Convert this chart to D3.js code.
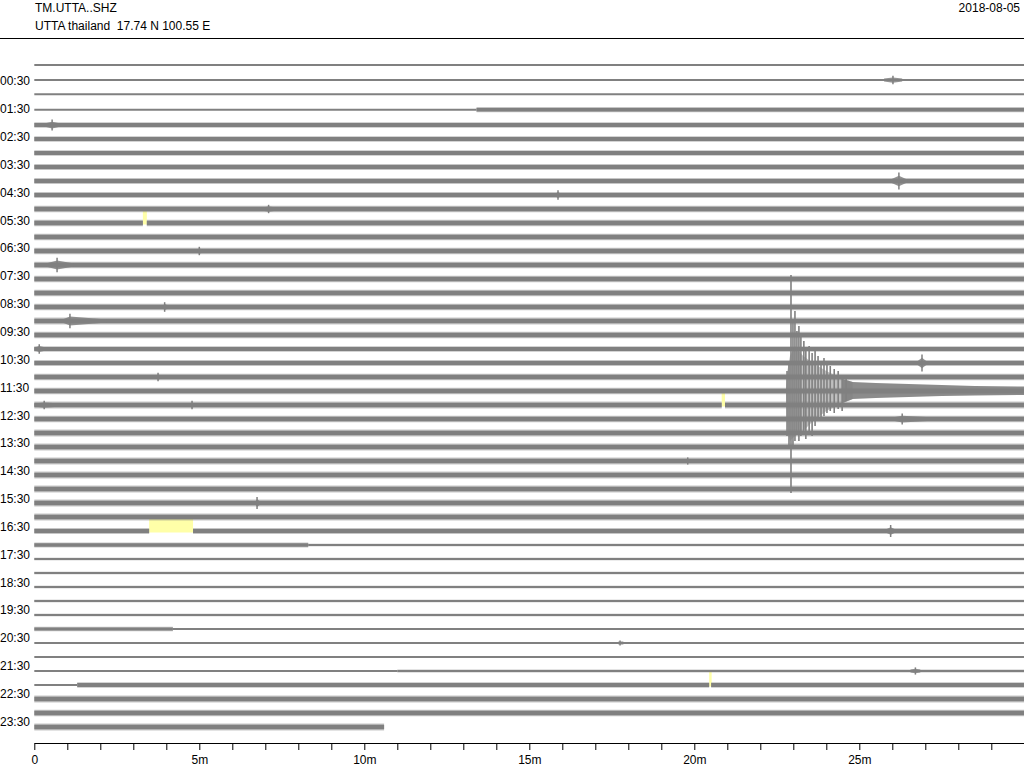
<!DOCTYPE html>
<html>
<head>
<meta charset="utf-8">
<script src="https://cdn.jsdelivr.net/npm/d3@7"></script>
<style>
  html, body { margin: 0; padding: 0; background: #fff; }
  svg text { font-family: "Liberation Sans", Arial, Helvetica, sans-serif; font-size: 12px; fill: #000; }
</style>
</head>
<body>
<svg id="chart" width="1024" height="768"></svg>
<script>
// ---------------- DATA ----------------
const stationCode = "TM.UTTA..SHZ";
const stationInfo = "UTTA thailand  17.74 N 100.55 E";
const dayLabel = "2018-08-05";

// start time of each 30-minute line
const traceStarts = d3.range(48).map(i =>
  String(Math.floor(i / 2)).padStart(2, "0") + ":" + (i % 2 ? "30" : "00"));

// minute tick values and their labels on the x axis
const minuteTicks = d3.range(0, 30, 1);
const minuteTickLabels = { 0: "0", 5: "5m", 10: "10m", 15: "15m", 20: "20m", 25: "25m" };

// background noise level (half amplitude, counts) for each line, split in segments [fromMin, toMin, level]
const traceSegments = [
  [[0, 30, 1.0]],
  [[0, 30, 1.0]],
  [[0, 30, 1.0]],
  [[0, 13.4, 1.0], [13.4, 30, 2.0]],
  [[0, 30, 2.2]],
  [[0, 30, 2.2]],
  [[0, 30, 2.2]],
  [[0, 30, 2.3]],
  [[0, 30, 2.3]],
  [[0, 30, 2.4]],
  [[0, 30, 2.5]],
  [[0, 3.29, 2.5], [3.41, 30, 2.5]],
  [[0, 30, 2.5]],
  [[0, 30, 2.5]],
  [[0, 30, 2.5]],
  [[0, 30, 2.5]],
  [[0, 30, 2.5]],
  [[0, 30, 2.5]],
  [[0, 30, 2.6]],
  [[0, 30, 2.5]],
  [[0, 30, 2.2]],
  [[0, 30, 2.4]],
  [[0, 30, 2.5]],
  [[0, 30, 2.5]],
  [[0, 20.83, 2.6], [20.93, 30, 2.6]],
  [[0, 30, 2.5]],
  [[0, 30, 2.6]],
  [[0, 30, 2.6]],
  [[0, 30, 2.6]],
  [[0, 30, 2.6]],
  [[0, 30, 2.6]],
  [[0, 30, 2.6]],
  [[0, 30, 2.6]],
  [[0, 3.48, 2.3], [4.81, 30, 2.3]],
  [[0, 8.3, 2.0], [8.3, 30, 1.2]],
  [[0, 30, 1.2]],
  [[0, 30, 1.2]],
  [[0, 30, 1.2]],
  [[0, 30, 1.2]],
  [[0, 30, 1.1]],
  [[0, 4.2, 1.8], [4.2, 30, 1.0]],
  [[0, 30, 1.0]],
  [[0, 30, 1.0]],
  [[0, 11, 1.0], [11, 30, 1.3]],
  [[0, 1.3, 1.0], [1.3, 20.45, 2.2], [20.51, 30, 2.2]],
  [[0, 30, 2.6]],
  [[0, 30, 2.5]],
  [[0, 10.6, 2.6]]
];

// mean offset (counts, upward) of the first quiet lines
const dcOffsets = [4, 3, 2.7, 1.3];

// small local events: [line, startMin, peakMin, endMin, peakAmplitude]
const localEvents = [
  [1, 25.75, 26.02, 26.3, 3.5],
  [4, 0.3, 0.54, 0.8, 4.5],
  [8, 25.95, 26.2, 26.45, 7],
  [9, 15.8, 15.87, 15.95, 4],
  [10, 6.9, 7.1, 7.35, 3.5],
  [13, 4.95, 5.0, 5.1, 3.5],
  [14, 0.35, 0.69, 1.2, 6],
  [17, 3.9, 3.95, 4.05, 4],
  [18, 0.85, 1.08, 2.2, 6],
  [20, 0.0, 0.15, 0.35, 4],
  [21, 26.75, 26.9, 27.05, 7],
  [22, 3.7, 3.75, 3.85, 3.5],
  [24, 0.0, 0.3, 0.8, 3.5],
  [24, 4.72, 4.78, 4.86, 3.5],
  [25, 26.0, 26.3, 27.3, 4.5],
  [28, 19.75, 19.8, 19.9, 3],
  [31, 6.7, 6.75, 6.85, 5],
  [33, 25.8, 25.95, 26.1, 5],
  [41, 17.7, 17.75, 17.85, 2],
  [43, 26.55, 26.7, 26.85, 3]
];

// the earthquake on the 11:30 line
const quakeLine = 23;
// envelope: [minute, up, down] in counts
const quakeEnvelope = [
  [22.78, 2.5, 2.5], [22.82, 20, 40], [22.90, 35, 50], [23.05, 45, 45],
  [23.3, 35, 40], [23.6, 28, 30], [24.0, 20, 20], [24.5, 12, 12],
  [24.8, 9, 8], [25.5, 8, 7], [26.5, 7, 6], [27.5, 6, 5], [28.5, 5, 4.5], [30.0, 4.5, 4]
];
// individual big swings: [minute, up, down]
const quakeSwings = [
  [22.81, 20, 45], [22.87, 30, 55], [22.93, 116, 102], [22.99, 70, 55],
  [23.05, 80, 50], [23.11, 60, 40], [23.17, 65, 50], [23.23, 55, 45],
  [23.32, 50, 42], [23.38, 40, 48], [23.48, 45, 40], [23.57, 38, 45],
  [23.66, 42, 35], [23.75, 35, 30], [23.84, 30, 28], [23.93, 33, 25],
  [24.02, 28, 22], [24.12, 25, 20], [24.24, 22, 22], [24.36, 20, 18],
  [24.48, 16, 20], [24.60, 14, 10]
];

// data gaps marked in yellow: [line, fromMin, toMin]
const dataGaps = [
  [11, 3.29, 3.41],
  [24, 20.83, 20.93],
  [33, 3.48, 4.81],
  [44, 20.45, 20.51]
];

// ---------------- CHART ----------------
const svg = d3.select("#chart");
const traceColor = "#808080";

const x = d3.scaleLinear().domain([0, 30]).range([34.3, 1024.3]);
const lineY = d3.scaleLinear().domain([0, 47]).range([69, 727]);
const labelY = d3.scaleLinear().domain([1, 47]).range([85.3, 725.9]);
const amp = d3.scaleLinear().domain([-100, 100]).range([100, -100]);

const base = i => lineY(i) + amp(dcOffsets[i] || 0);

// header
svg.append("text").attr("x", 35).attr("y", 12).text(stationCode);
svg.append("text").attr("x", 35).attr("y", 29.5).style("white-space", "pre").text(stationInfo);
svg.append("text").attr("x", 1020).attr("y", 12).attr("text-anchor", "end").text(dayLabel);
svg.append("line").attr("x1", 0).attr("x2", 1024).attr("y1", 38.5).attr("y2", 38.5)
  .attr("stroke", "#000").attr("stroke-width", 1);

// gaps
svg.append("g").selectAll("rect").data(dataGaps).join("rect")
  .attr("x", d => x(d[1]))
  .attr("width", d => Math.max(x(d[2]) - x(d[1]), 2.5))
  .attr("y", d => lineY(d[0] - 1))
  .attr("height", d => lineY(d[0]) - lineY(d[0] - 1) + 1.5)
  .attr("fill", "#ffffa8");

// noise bands
const bandG = svg.append("g");
const band = (i, k) => d3.area()
  .x(d => x(d[0]))
  .y0(d => base(i) + amp(d[1] * k))
  .y1(d => base(i) + amp(-d[1] * k));

traceSegments.forEach((segs, i) => {
  segs.forEach(s => {
    const pts = [[s[0], s[2]], [s[1], s[2]]];
    const lvl = s[2];
    if (lvl > 1.0) {
      bandG.append("path").attr("d", band(i, 1.3)(pts))
        .attr("fill", traceColor).attr("fill-opacity", lvl > 1.5 ? 0.45 : 0.3);
    }
    const core = lvl <= 1.3 ? 1.0 / lvl : 0.88;
    bandG.append("path").attr("d", band(i, core)(pts)).attr("fill", traceColor);
  });
});

// local events: envelope plus a central spike
const evG = svg.append("g");
localEvents.forEach(e => {
  const [i, s, p, en, a] = e;
  const lvl = 1.5;
  const pts = [[s, lvl], [p, a * 0.75], [en, lvl]];
  evG.append("path").attr("d", band(i, 1)(pts)).attr("fill", traceColor).attr("fill-opacity", 0.85);
  evG.append("line")
    .attr("x1", x(p)).attr("x2", x(p))
    .attr("y1", base(i) + amp(a * 1.2)).attr("y2", base(i) + amp(-a * 1.2))
    .attr("stroke", traceColor).attr("stroke-width", 1.5);
});

// earthquake
const qG = svg.append("g");
const qArea = d3.area()
  .x(d => x(d[0]))
  .y0(d => base(quakeLine) + amp(d[1]))
  .y1(d => base(quakeLine) + amp(-d[2]));
qG.append("path").attr("d", qArea(quakeEnvelope.filter(d => d[0] <= 24.8)))
  .attr("fill", traceColor).attr("fill-opacity", 0.5);
qG.append("path").attr("d", qArea(quakeEnvelope.filter(d => d[0] >= 24.5)))
  .attr("fill", traceColor).attr("fill-opacity", 0.9);
qG.selectAll("line").data(quakeSwings).join("line")
  .attr("x1", d => x(d[0])).attr("x2", d => x(d[0]))
  .attr("y1", d => base(quakeLine) + amp(d[1]))
  .attr("y2", d => base(quakeLine) + amp(-d[2]))
  .attr("stroke", traceColor).attr("stroke-width", 1.6);

// time labels (every hour, on the :30 lines)
svg.append("g").selectAll("text")
  .data(d3.range(1, 48, 2)).join("text")
  .attr("x", 0).attr("y", i => labelY(i))
  .text(i => traceStarts[i]);

// x axis
const axis = d3.axisBottom(x)
  .tickValues(minuteTicks)
  .tickSize(7).tickSizeOuter(0).tickPadding(5)
  .tickFormat(d => minuteTickLabels[d] || "");
const ax = svg.append("g").attr("transform", "translate(0,743)").call(axis);
ax.selectAll("text").attr("font-size", null).attr("font-family", null).style("font-size", "12px");
ax.attr("font-size", null).attr("font-family", null);
ax.select(".domain").attr("stroke", "#000");
ax.selectAll(".tick line").attr("stroke", "#000");
</script>
</body>
</html>
